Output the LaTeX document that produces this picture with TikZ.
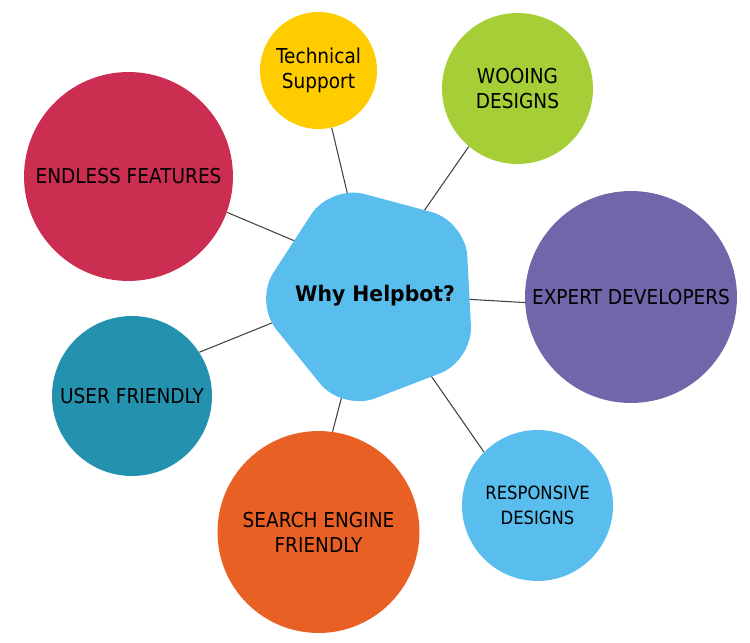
\documentclass[tikz,border=0pt]{standalone}
\usepackage{fontspec}
\setmainfont{DejaVu Sans}[FakeStretch=0.9, BoldFeatures={FakeStretch=0.95}]
\usetikzlibrary{shapes.geometric,backgrounds}

\definecolor{hubblue}{RGB}{89,190,237}
\definecolor{supportyellow}{RGB}{255,204,0}
\definecolor{wooinggreen}{RGB}{166,206,54}
\definecolor{endlessred}{RGB}{204,46,82}
\definecolor{expertpurple}{RGB}{111,103,169}
\definecolor{userteal}{RGB}{36,145,174}
\definecolor{searchorange}{RGB}{232,96,36}
\definecolor{linkgray}{RGB}{64,64,64}

\newcommand\bubblefont{\fontsize{11.7}{14.2}\selectfont}
\newcommand\smallbubblefont{\fontsize{10.4}{14.2}\selectfont}

\begin{document}
\begin{tikzpicture}[x=0.02cm, y=-0.02cm,
    bubble/.style={circle, inner sep=0pt, align=center, font=\bubblefont},
    link/.style={draw=linkgray, line width=0.6pt, shorten <=-0.3cm}]
            \useasboundingbox (0,0) rectangle (750,642);

            % centre
            \node[regular polygon, regular polygon sides=5, shape border rotate=21,
                  minimum size=4.76cm, inner sep=0pt, rounded corners=0.7cm,
                  fill=hubblue, font=\fontsize{12.2}{14.6}\selectfont\bfseries]
                  (why) at (373,296) {\makebox[0pt]{\hspace*{0.08cm}\raisebox{0.06cm}{Why Helpbot?}}};

            % bubbles
            \node[bubble, fill=supportyellow, minimum size=2.34cm] (tech) at (318.5,70.5) {Technical\\Support};
            \node[bubble, fill=wooinggreen, minimum size=3.02cm] (wooing) at (517.5,88.5) {WOOING\\DESIGNS};
            \node[bubble, fill=endlessred, minimum size=4.18cm] (endless) at (128.5,176.5) {ENDLESS FEATURES};
            \node[bubble, fill=expertpurple, minimum size=4.24cm] (expert) at (631,297) {EXPERT DEVELOPERS};
            \node[bubble, fill=userteal, minimum size=3.2cm] (user) at (132,396) {USER FRIENDLY};
            \node[bubble, fill=searchorange, minimum size=4.04cm] (search) at (318.5,532) {SEARCH ENGINE\\FRIENDLY};
            \node[bubble, fill=hubblue, minimum size=3.02cm, font=\smallbubblefont] (responsive) at (537.5,505.5) {RESPONSIVE\\DESIGNS};

            % links, under the shapes
            \begin{pgfonlayer}{background}
            \draw[link] (why.104) -- (tech.-77);
            \draw[link] (why.59) -- (wooing.-130);
            \draw[link] (why.-2) -- (expert.183);
            \draw[link] (why.-54) -- (responsive.135);
            \draw[link] (why.-107) -- (search.82);
            \draw[link] (why.195) -- (user.33);
            \draw[link] (why.145) -- (endless.-20);
            \end{pgfonlayer}
        \end{tikzpicture}
\end{document}
